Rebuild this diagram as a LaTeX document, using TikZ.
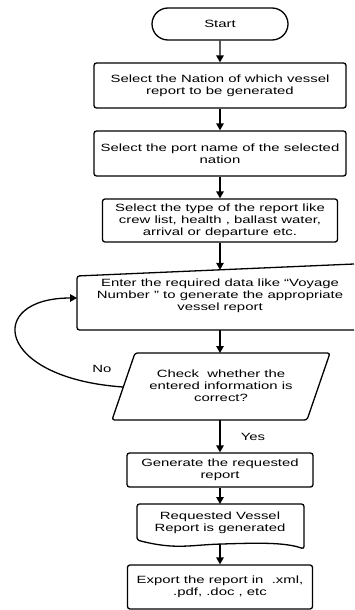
\documentclass[tikz,border=0pt]{standalone}
\usepackage{fontspec}
\setmainfont[FakeStretch=1.42]{Liberation Sans}
\usetikzlibrary{arrows.meta,shapes.misc}

\tikzset{
  flowline/.style={line width=1.3pt,-{Triangle[length=7pt,width=7.5pt]}},
  shapeline/.style={line width=1.3pt,rounded corners=2.5pt},
  flowtext/.style={align=center,inner sep=0pt,font=\fontsize{10.5pt}{12pt}\selectfont},
  procbox/.style={draw,shapeline,flowtext},
}

\begin{document}
\begin{tikzpicture}[x=1pt,y=-1pt]
            \useasboundingbox (0,0) rectangle (354,610);

            % Start terminal
            \node [draw, rounded rectangle, line width=1.3pt, minimum width=136pt, minimum height=32pt, flowtext] (start) at (220,24) {Start};

            % Selection boxes
            \node [procbox, minimum width=252pt, minimum height=45pt] (nation) at (220,85.5) {Select the Nation of which vessel\\report to be generated};
            \node [procbox, minimum width=252pt, minimum height=45pt] (port) at (220,153.5) {Select the port name of the selected\\nation};
            \node [procbox, minimum width=235pt, minimum height=43pt] (type) at (220,220.5) {Select the type of the report like\\crew list, health , ballast water,\\arrival or departure etc.};

            % Manual input for the voyage data
            \draw [shapeline] (354,264) -- (77,276) -- (77,330) -- (354,330);
            \node [flowtext] (enter) at (220,296) {Enter the required data like ``Voyage\\Number '' to generate the appropriate\\vessel report};
            \coordinate (enter top) at (220,269.8);
            \coordinate (enter bottom) at (220,330);
            \coordinate (enter west) at (77,298);

            % Check of the entered data
            \draw [shapeline] (135,353) -- (330,353) -- (307,420) -- (112,420) -- cycle;
            \node [flowtext] (check) at (221,386) {Check \ whether the\\entered information is\\correct?};
            \coordinate (check top) at (220,353);
            \coordinate (check bottom) at (220,420);
            \coordinate (check west) at (123,387);

            % Generate and report document
            \node [procbox, minimum width=186pt, minimum height=34pt] (generate) at (220,470) {Generate the requested\\report};
            \draw [shapeline] (137,540) -- (137,504) -- (304,504) -- (304,549)
                .. controls (285,542) and (255,543) .. (222,544)
                .. controls (190,545) and (175,550) .. cycle;
            \node [flowtext] (doc) at (220,523) {Requested Vessel\\Report is generated};
            \coordinate (doc top) at (220,504);
            \coordinate (doc bottom) at (220,544);

            % Export box
            \node [procbox, minimum width=185pt, minimum height=44pt] (export) at (220,587) {Export the report in \ .xml,\\.pdf, .doc , etc};

            % Connectors
            \draw [flowline] (start) -- (nation);
            \draw [flowline] (nation) -- (port);
            \draw [flowline] (port) -- (type);
            \draw [flowline] (type) -- (enter top);
            \draw [flowline] (enter bottom) -- (check top);
            \draw [flowline] (check bottom) -- (generate);
            \draw [flowline] (generate) -- (doc top);
            \draw [flowline] (doc bottom) -- (export);

            % Loop back when the data is wrong
            \draw [flowline] (check west) .. controls (-5,378) and (-15,298) .. (enter west);
            \node [flowtext] (no) at (102,369) {No};
            \node [flowtext] (yes) at (253,437) {Yes};
\end{tikzpicture}
\end{document}
